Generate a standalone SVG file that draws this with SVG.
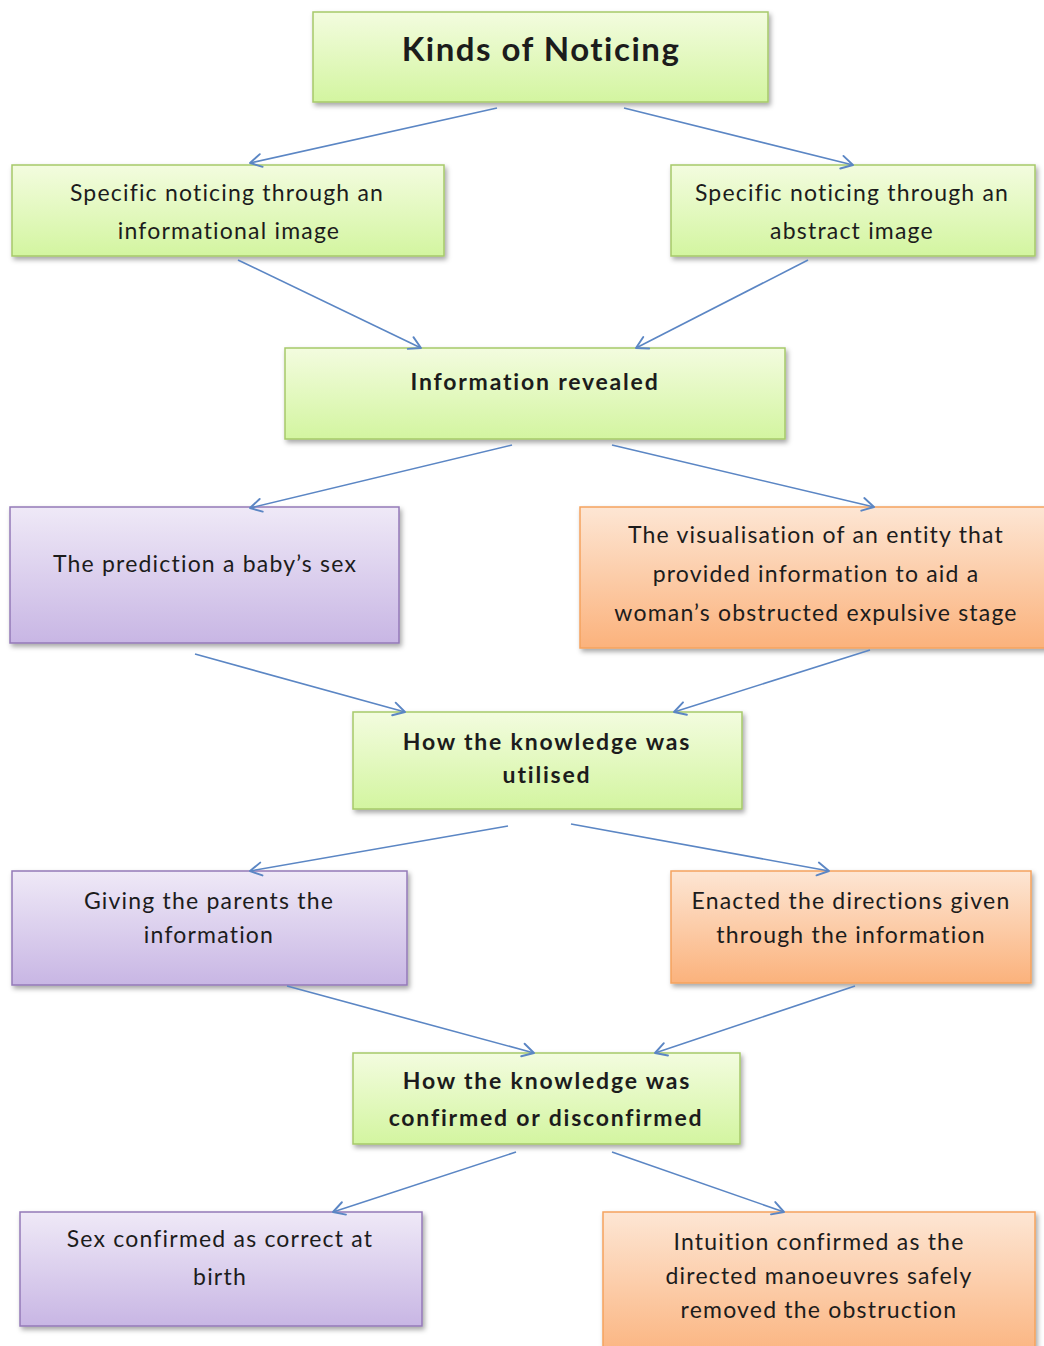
<svg xmlns="http://www.w3.org/2000/svg" width="1044" height="1346" viewBox="0 0 1044 1346">
  <defs>
    <linearGradient id="gGreen" x1="0" y1="0" x2="0" y2="1">
      <stop offset="0" stop-color="#f3fcdf"/>
      <stop offset="1" stop-color="#d3f5a0"/>
    </linearGradient>
    <linearGradient id="gPurple" x1="0" y1="0" x2="0" y2="1">
      <stop offset="0" stop-color="#efe9f7"/>
      <stop offset="1" stop-color="#c8b6e4"/>
    </linearGradient>
    <linearGradient id="gOrange" x1="0" y1="0" x2="0" y2="1">
      <stop offset="0" stop-color="#fde6d4"/>
      <stop offset="1" stop-color="#fbb27c"/>
    </linearGradient>
    <filter id="shadow" x="-5%" y="-5%" width="115%" height="125%">
      <feDropShadow dx="2" dy="3" stdDeviation="2.5" flood-color="#000" flood-opacity="0.35"/>
    </filter>
    <marker id="arrow" viewBox="0 0 16 16" refX="14.5" refY="8" markerWidth="16" markerHeight="16" markerUnits="userSpaceOnUse" orient="auto">
      <path d="M3,1.5 L14.5,8 L3,14.5" fill="none" stroke="#5b86c4" stroke-width="1.9" stroke-linecap="round" stroke-linejoin="round"/>
    </marker>
  </defs>
  <style>
    .box { stroke-width: 1.5; filter: url(#shadow); }
    .green { fill: url(#gGreen); stroke: #a6c96a; }
    .purple { fill: url(#gPurple); stroke: #9479b8; }
    .orange { fill: url(#gOrange); stroke: #f5a35e; }
    .t { font-family: Lato, "Open Sans", "Liberation Sans", sans-serif; font-size: 23px; letter-spacing: 1.2px; fill: #1c1c1c; text-anchor: middle; dominant-baseline: central; }
    .b { font-weight: bold; letter-spacing: 1.8px; }
    .title { font-size: 33px; font-weight: bold; letter-spacing: 1.5px; }
    .conn line { stroke: #5b86c4; stroke-width: 1.6; marker-end: url(#arrow); }
  </style>

  <rect width="1044" height="1346" fill="#ffffff"/>

  <g id="kinds-of-noticing">
    <rect class="box green" x="313" y="12" width="455" height="90"/>
    <text class="t title" x="541" y="48">Kinds of Noticing</text>
  </g>

  <g id="informational-image">
    <rect class="box green" x="12" y="165" width="432" height="91"/>
    <text class="t" x="227" y="192">Specific noticing through an</text>
    <text class="t" x="229" y="230">informational image</text>
  </g>

  <g id="abstract-image">
    <rect class="box green" x="671" y="165" width="364" height="91"/>
    <text class="t" x="852" y="192">Specific noticing through an</text>
    <text class="t" x="852" y="230">abstract image</text>
  </g>

  <g id="information-revealed">
    <rect class="box green" x="285" y="348" width="500" height="91"/>
    <text class="t b" x="535" y="381">Information revealed</text>
  </g>

  <g id="baby-sex-prediction">
    <rect class="box purple" x="10" y="507" width="389" height="136"/>
    <text class="t" x="205" y="563">The prediction a baby’s sex</text>
  </g>

  <g id="entity-visualisation">
    <rect class="box orange" x="580" y="507" width="470" height="141"/>
    <text class="t" x="816" y="534">The visualisation of an entity that</text>
    <text class="t" x="816" y="573">provided information to aid a</text>
    <text class="t" x="816" y="612">woman’s obstructed expulsive stage</text>
  </g>

  <g id="knowledge-utilised">
    <rect class="box green" x="353" y="712" width="389" height="97"/>
    <text class="t b" x="547" y="741">How the knowledge was</text>
    <text class="t b" x="547" y="774">utilised</text>
  </g>

  <g id="giving-parents-information">
    <rect class="box purple" x="12" y="871" width="395" height="114"/>
    <text class="t" x="209" y="900">Giving the parents the</text>
    <text class="t" x="209" y="934">information</text>
  </g>

  <g id="enacted-directions">
    <rect class="box orange" x="671" y="871" width="360" height="112"/>
    <text class="t" x="851" y="900">Enacted the directions given</text>
    <text class="t" x="851" y="934">through the information</text>
  </g>

  <g id="knowledge-confirmed">
    <rect class="box green" x="353" y="1053" width="387" height="91"/>
    <text class="t b" x="547" y="1080">How the knowledge was</text>
    <text class="t b" x="546" y="1117">confirmed or disconfirmed</text>
  </g>

  <g id="sex-confirmed">
    <rect class="box purple" x="20" y="1212" width="402" height="114"/>
    <text class="t" x="220" y="1238">Sex confirmed as correct at</text>
    <text class="t" x="220" y="1276">birth</text>
  </g>

  <g id="intuition-confirmed">
    <rect class="box orange" x="603" y="1212" width="432" height="150"/>
    <text class="t" x="819" y="1241">Intuition confirmed as the</text>
    <text class="t" x="819" y="1275">directed manoeuvres safely</text>
    <text class="t" x="819" y="1309">removed the obstruction</text>
  </g>

  <!-- connectors sit above the boxes so the arrowheads overlap the edges -->
  <g class="conn" id="connectors">
    <line x1="497" y1="108" x2="250" y2="163"/>
    <line x1="624" y1="108" x2="853" y2="165"/>
    <line x1="238" y1="260" x2="421" y2="348"/>
    <line x1="808" y1="260" x2="636" y2="348"/>
    <line x1="512" y1="445" x2="250" y2="508"/>
    <line x1="612" y1="445" x2="874" y2="507"/>
    <line x1="195" y1="654" x2="405" y2="712"/>
    <line x1="870" y1="650" x2="674" y2="712"/>
    <line x1="508" y1="826" x2="250" y2="871"/>
    <line x1="571" y1="824" x2="829" y2="871"/>
    <line x1="287" y1="986" x2="534" y2="1053"/>
    <line x1="855" y1="986" x2="655" y2="1053"/>
    <line x1="516" y1="1152" x2="333" y2="1212"/>
    <line x1="612" y1="1152" x2="784" y2="1212"/>
  </g>
</svg>
